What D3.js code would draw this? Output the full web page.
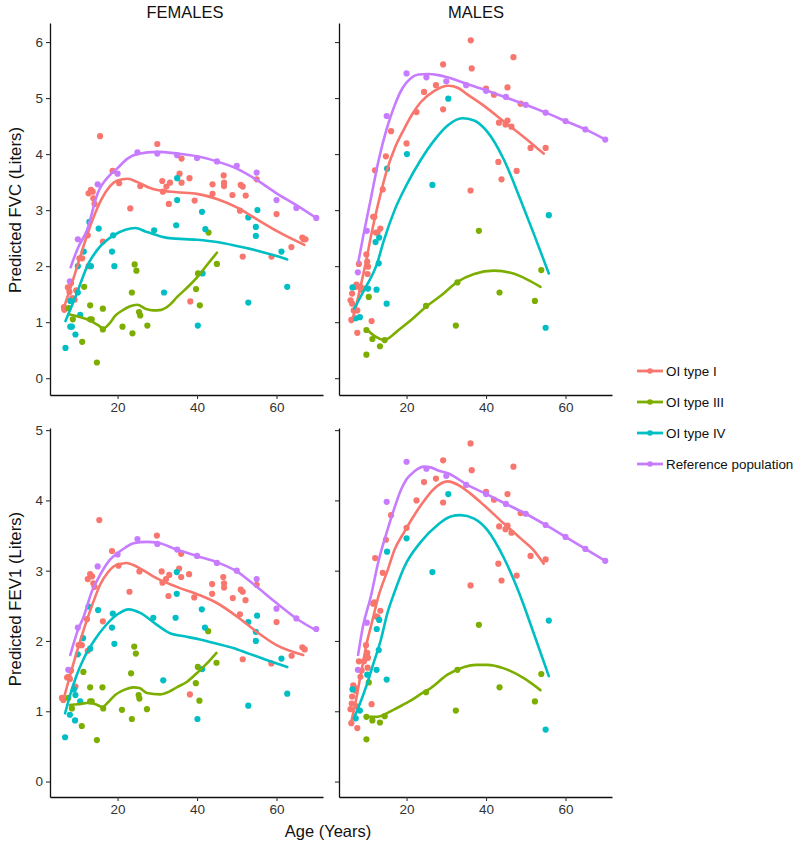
<!DOCTYPE html>
<html><head><meta charset="utf-8">
<script src="https://cdn.jsdelivr.net/npm/d3@7"></script>
<style>body{margin:0;background:#fff;} svg{display:block;} text{font-family:"Liberation Sans",Arial,sans-serif;}</style>
</head><body><svg id="c" width="800" height="846"></svg>
<script>
// ---------- categories / ticks ----------
const groups = ["OI type I", "OI type III", "OI type IV", "Reference population"];
const colors = ["#F8766D", "#7CAE00", "#00BFC4", "#C77CFF"];
const sexes = ["FEMALES", "MALES"];
const ageTicks = [20, 40, 60];
const fvcTicks = [0, 1, 2, 3, 4, 5, 6];
const fev1Ticks = [0, 1, 2, 3, 4, 5];

// ---------- FVC, females: points [age, liters] ----------
const fvcF_I = [[6.5,1.27],[6.6,1.22],[7.5,1.62],[7.9,1.54],[8.3,1.70],[8.6,1.43],[9.2,1.40],[9.6,1.57],[10.4,2.14],[11.1,2.14],[12.5,2.55],[12.7,3.30],[13.3,3.36],[13.75,3.33],[13.9,3.21],[14.2,3.11],[12.7,2.0],[15.6,4.32],[16.3,2.44],[18.75,3.70],[20.4,3.48],[23.2,3.03],[25.7,3.43],[30,4.18],[31.25,3.52],[31.4,3.33],[32.3,3.42],[32.9,3.11],[33.2,3.49],[35.6,3.65],[36.1,3.92],[36.1,3.49],[38.1,3.57],[39.4,3.17],[38.3,1.37],[43.9,3.46],[43.9,3.29],[46.7,3.62],[46.8,3.49],[46.8,3.43],[48.9,3.27],[50.8,2.99],[51,3.45],[51.5,3.42],[52.25,3.26],[51.5,2.17],[55,3.55],[58.75,2.17],[60,2.93],[63.75,2.34],[66.5,2.51],[66.8,2.48],[67.3,2.48]];
const fvcF_III = [[7.7,1.25],[8.75,1.05],[11.1,0.65],[11.6,1.63],[13.1,1.30],[13.1,1.05],[13.5,1.05],[14.8,0.28],[16.3,1.24],[16.3,0.87],[21.25,0.92],[23.6,1.53],[23.75,0.80],[24.3,2.03],[24.75,1.92],[25.4,1.18],[25.7,1.12],[27.5,0.94],[39.75,1.59],[40.25,1.87],[40.7,1.30],[42.9,2.60],[45,2.04]];
const fvcF_IV = [[6.9,0.54],[8.1,0.92],[8.5,0.92],[9.4,0.78],[8.1,1.38],[10,1.53],[10.6,1.13],[10,2.0],[11.5,2.26],[12.9,2.79],[13.3,2.0],[15.25,2.67],[18.6,2.26],[18.9,2.55],[19.2,2.0],[29.2,2.64],[31.7,1.53],[34.75,2.73],[35,3.18],[35,3.57],[40.2,0.94],[41.25,2.97],[41.4,1.87],[42.1,2.66],[52.9,1.35],[52.9,2.87],[54.8,2.70],[54.8,2.54],[55.2,3.0],[61.25,2.26],[62.7,1.63]];
const fvcF_Ref = [[8,1.73],[10,2.48],[15,3.46],[20,3.65],[25,4.03],[30,4.01],[35,3.98],[40,3.93],[45,3.87],[50,3.79],[55,3.67],[60,3.18],[65,3.04],[70,2.86]];
// smoothed curves
const fvcF_I_fit = [[6.3,1.22],[8,1.58],[10,2.03],[12,2.48],[14,2.88],[16,3.2],[18,3.42],[20,3.53],[22.5,3.56],[25,3.5],[28,3.4],[30,3.36],[35,3.32],[40,3.29],[45,3.2],[50,3.05],[55,2.84],[60,2.63],[67,2.38]];
const fvcF_III_fit = [[7.7,1.14],[10,1.1],[13,1.03],[15,0.95],[16.5,0.89],[18,0.98],[19.5,1.12],[21,1.2],[23,1.28],[25,1.31],[27,1.24],[29,1.21],[31,1.22],[33,1.3],[35,1.45],[38,1.65],[40,1.8],[42.5,2.02],[45,2.24]];
const fvcF_IV_fit = [[6.9,1.02],[9.4,1.45],[12.7,2.05],[15,2.3],[19,2.55],[22,2.65],[24.5,2.68],[27,2.62],[30,2.55],[33,2.5],[40,2.47],[45,2.43],[50,2.36],[55,2.28],[60,2.18],[62.7,2.12]];
const fvcF_Ref_fit = [[8.2,1.98],[10,2.32],[12.3,2.64],[15,3.3],[18,3.62],[20,3.75],[22.5,3.92],[25,4.0],[30,4.04],[35,4.01],[40,3.96],[45,3.87],[50,3.74],[55,3.54],[60,3.3],[65,3.09],[70,2.86]];

// ---------- FVC, males ----------
const fvcM_I = [[5.9,1.39],[6.1,1.04],[6.3,1.33],[6.3,1.51],[6.7,1.21],[7.2,1.63],[7.4,1.67],[7.6,1.21],[7.6,0.81],[8.0,2.04],[8.4,1.63],[8.6,1.58],[9.3,1.60],[9.9,2.21],[10.1,2.08],[10.3,1.99],[10.2,1.86],[11.2,1.02],[11.6,2.88],[11.9,2.88],[12.3,2.60],[12.7,2.60],[13.4,2.67],[14,3.37],[12.05,3.71],[14.8,3.96],[16.1,4.41],[20,4.19],[22.5,4.75],[24.4,5.11],[27.4,5.23],[29.2,5.60],[29.2,4.80],[36.15,6.03],[36.4,5.53],[36.1,3.35],[40,5.17],[42,5.06],[43.1,3.86],[43.25,4.56],[43.9,3.55],[44.9,4.53],[45.4,5.19],[45.4,4.60],[46.4,4.49],[46.9,5.73],[47.7,3.70],[48.7,4.90],[51.2,4.11],[55,4.11]];
const fvcM_III = [[9.9,0.86],[9.9,0.42],[10.5,1.45],[11.4,0.70],[13.3,0.57],[14.5,0.68],[24.9,1.29],[32.4,0.94],[32.8,1.71],[38.2,2.63],[43.4,1.53],[52.3,1.38],[53.9,1.93]];
const fvcM_IV = [[6.4,1.62],[7.2,1.07],[8.25,1.09],[10.3,1.60],[12.2,2.43],[13.1,2.51],[13.0,2.05],[12.45,1.58],[15,1.33],[15.1,3.74],[20.1,4.0],[26.5,3.45],[30.5,4.99],[55,0.90],[55.8,2.91]];
const fvcM_Ref = [[7.75,1.89],[10,2.63],[15,4.68],[20,5.44],[25,5.37],[30,5.30],[35,5.23],[40,5.13],[45,5.02],[50,4.88],[55,4.74],[60,4.59],[65,4.44],[70,4.26]];
const fvcM_I_fit = [[6.1,1.0],[7,1.2],[8,1.5],[9,1.82],[10,2.15],[11,2.52],[12,2.85],[13.5,3.3],[15,3.7],[17,4.1],[19.4,4.45],[21.5,4.72],[23.6,4.93],[27,5.13],[30.5,5.22],[33,5.18],[35,5.08],[39.5,4.86],[44.5,4.58],[48.7,4.35],[52,4.16],[54.5,4.01]];
const fvcM_III_fit = [[10,0.87],[12,0.75],[14.4,0.68],[16,0.74],[18,0.86],[21,1.03],[25,1.28],[28.6,1.47],[32.8,1.72],[37,1.86],[42,1.92],[46.2,1.88],[50.4,1.76],[53.7,1.63]];
const fvcM_IV_fit = [[6.8,1.24],[9.3,1.57],[12.6,2.05],[14.3,2.46],[17,3.0],[20,3.45],[23.6,3.9],[27,4.25],[30.5,4.52],[34,4.64],[37,4.6],[40.3,4.4],[44.5,3.9],[48.7,3.18],[52,2.58],[55.8,1.87]];
const fvcM_Ref_fit = [[7.8,2.05],[9,2.5],[11,3.2],[13,3.9],[15,4.45],[17,4.87],[19,5.18],[21,5.35],[23,5.42],[25.3,5.43],[28,5.41],[30.3,5.37],[35.3,5.25],[40.3,5.13],[45.4,5.0],[50,4.88],[55,4.74],[60,4.59],[65,4.44],[70,4.26]];

// ---------- FEV1, females ----------
const fev1F_I = [[6.0,1.19],[6.35,1.16],[7.3,1.48],[7.6,1.49],[8.0,1.46],[8.3,1.58],[9.4,1.35],[10.2,1.94],[11,1.94],[12.3,2.31],[12.5,2.88],[13.1,2.95],[13.6,2.92],[13.9,2.82],[14.2,2.77],[12.5,1.86],[15.4,3.72],[16.3,2.28],[18.6,3.28],[20.25,3.07],[23,2.70],[25.5,2.99],[29.9,3.50],[31.1,2.99],[31.3,2.83],[32.2,2.88],[32.8,2.64],[33,2.94],[35.5,3.03],[36,3.24],[36,2.91],[38,2.95],[39.3,2.62],[38.2,1.24],[43.8,2.81],[43.8,2.67],[46.6,2.91],[46.8,2.82],[46.8,2.76],[49,2.61],[50.8,2.38],[51,2.73],[51.5,2.70],[52.2,2.58],[51.5,1.74],[55,2.80],[58.7,1.68],[60,2.27],[63.8,1.79],[66.5,1.91],[67.1,1.88]];
const fev1F_III = [[7.6,1.19],[8.5,1.04],[11,0.79],[11.4,1.56],[13.1,1.34],[13.1,1.14],[13.5,1.14],[14.8,0.59],[16.2,1.34],[16.4,1.04],[21.1,1.02],[23.4,1.54],[23.6,0.89],[24.2,1.92],[24.6,1.82],[25.3,1.23],[25.5,1.18],[27.4,1.03],[39.7,1.40],[40.2,1.63],[40.6,1.15],[42.8,2.14],[44.9,1.69]];
const fev1F_IV = [[6.8,0.63],[8.0,0.95],[9.3,0.87],[9,1.31],[10,1.81],[9.4,1.23],[10.6,1.14],[11.3,2.04],[12.7,2.49],[13.1,1.89],[15.1,2.44],[18.6,2.19],[18.8,2.39],[19.2,1.96],[29,2.33],[31.5,1.44],[34.6,2.33],[34.9,2.67],[34.9,2.98],[40.1,0.89],[41.2,2.45],[41.3,1.60],[42,2.19],[52.9,1.08],[52.9,2.27],[54.8,2.13],[54.8,2.0],[55.1,2.36],[61.25,1.75],[62.7,1.25]];
const fev1F_Ref = [[7.6,1.59],[10,2.19],[15,3.06],[20,3.23],[25,3.45],[30,3.38],[35,3.30],[40,3.21],[45,3.11],[50,3.0],[55,2.88],[60,2.46],[65,2.32],[70,2.17]];
const fev1F_I_fit = [[6.35,1.16],[8,1.5],[10.6,2.0],[12.3,2.3],[14,2.57],[15.6,2.8],[17.5,2.97],[19,3.06],[21,3.1],[22.3,3.11],[24,3.08],[25.7,3.03],[29.9,2.89],[34.9,2.77],[40.75,2.65],[45,2.54],[50,2.35],[55,2.13],[60,1.94],[66.7,1.80]];
const fev1F_III_fit = [[8,1.09],[10,1.1],[13,1.12],[14.5,1.1],[16.2,1.06],[17.5,1.12],[19.4,1.23],[21.5,1.3],[24,1.34],[25.5,1.33],[27.4,1.26],[30.7,1.24],[33,1.28],[34.9,1.34],[37.5,1.42],[39.9,1.54],[42.5,1.68],[44.9,1.83]];
const fev1F_IV_fit = [[6.8,0.97],[8,1.22],[9.5,1.48],[11.5,1.75],[14.3,2.02],[17,2.22],[20,2.38],[22.8,2.45],[25.7,2.4],[29.9,2.23],[33.2,2.11],[37.4,2.06],[40.75,2.02],[45,1.96],[49.1,1.90],[53,1.82],[57.5,1.73],[62.7,1.63]];
const fev1F_Ref_fit = [[8.1,1.8],[10,2.15],[11.5,2.35],[13.5,2.7],[15.6,2.94],[18,3.15],[20,3.25],[22,3.33],[24,3.39],[27.4,3.41],[29.9,3.40],[34.9,3.30],[39.9,3.21],[45,3.12],[50,2.99],[55,2.77],[60,2.54],[65,2.32],[70,2.15]];

// ---------- FEV1, males ----------
const fev1M_I = [[5.9,1.03],[6.1,0.83],[6.2,1.11],[6.3,1.21],[6.6,1.37],[7.0,1.33],[7.2,1.29],[7.5,1.07],[7.6,0.76],[8.0,1.71],[8.4,1.49],[8.7,1.58],[9.3,1.71],[9.8,1.94],[10.1,1.83],[10.3,1.76],[10.2,1.62],[11.2,1.10],[11.6,2.53],[11.9,2.55],[12.3,2.35],[12.7,2.34],[13.4,2.43],[14,2.97],[12.1,3.18],[14.8,3.44],[16.1,3.79],[20,3.61],[22.5,4.0],[24.4,4.26],[27.4,4.31],[29.2,4.57],[29.2,3.97],[36.1,4.81],[36.4,4.43],[36.1,2.79],[40,4.12],[42,4.01],[43.1,3.10],[43.3,3.63],[43.9,2.86],[44.9,3.59],[45.4,4.09],[45.4,3.64],[46.4,3.54],[46.9,4.48],[47.7,2.93],[48.7,3.82],[51.2,3.21],[55,3.16]];
const fev1M_III = [[9.9,0.92],[9.9,0.60],[10.5,1.41],[11.4,0.87],[13.3,0.84],[14.5,0.93],[24.9,1.27],[32.4,1.01],[32.8,1.59],[38.2,2.23],[43.4,1.34],[52.3,1.14],[53.9,1.53]];
const fev1M_IV = [[6.4,1.31],[7.2,0.90],[8.25,1.01],[10.1,1.52],[12.5,2.17],[13.1,2.30],[13.0,1.87],[12.45,1.59],[15,1.45],[15.1,3.27],[20,3.46],[26.5,2.98],[30.5,4.09],[55,0.74],[55.8,2.29]];
const fev1M_Ref = [[7.75,1.59],[10,2.26],[15,3.98],[20,4.55],[25,4.45],[30,4.35],[35,4.22],[40,4.09],[45,3.95],[50,3.81],[55,3.65],[60,3.48],[65,3.31],[70,3.14]];
const fev1M_I_fit = [[6,0.83],[7,1.08],[8,1.38],[9,1.68],[10.1,2.0],[11,2.2],[13,2.65],[15.2,3.0],[17,3.3],[19.4,3.55],[21.5,3.75],[23.6,3.93],[27,4.17],[30.3,4.27],[33.6,4.2],[36,4.1],[39.5,3.93],[44.5,3.67],[48.7,3.46],[52,3.29],[54.5,3.10]];
const fev1M_III_fit = [[9.9,0.92],[12,0.92],[13.4,0.93],[15,0.97],[17.7,1.05],[21,1.15],[24,1.26],[26.1,1.33],[30.3,1.52],[34.5,1.63],[37.5,1.66],[40.3,1.66],[44.5,1.61],[49.5,1.47],[53.7,1.30]];
const fev1M_IV_fit = [[6.75,0.9],[8,1.07],[10,1.38],[11.5,1.65],[13.5,2.01],[15.2,2.4],[17,2.7],[19.4,3.05],[23.6,3.41],[27.8,3.65],[31.1,3.77],[33.6,3.79],[37,3.74],[40.3,3.58],[44.5,3.18],[48.7,2.63],[52,2.11],[55.8,1.50]];
const fev1M_Ref_fit = [[7.8,1.8],[9,2.2],[11,2.63],[13,3.15],[15.2,3.58],[17,3.9],[18.6,4.15],[20,4.3],[21.9,4.41],[24.4,4.48],[26,4.47],[27.8,4.43],[30.7,4.38],[35.3,4.22],[40.1,4.09],[45,3.95],[50,3.81],[55,3.65],[60,3.48],[65,3.31],[70,3.14]];

// ---------- layout ----------
const svg = d3.select("#c");
const ageDomain = [3.0, 71.7];
const xFem = d3.scaleLinear().domain(ageDomain).range([50, 323]);
const xMal = d3.scaleLinear().domain(ageDomain).range([339, 612]);
const yFvc = d3.scaleLinear().domain([-0.3, 6.34]).range([395, 23]);
const yFev = d3.scaleLinear().domain([-0.22, 5.03]).range([797, 428]);
const fmt = d3.format("d");

const panels = [
  {x: xFem, y: yFvc, ticks: fvcTicks, labels: true, pts: [fvcF_I, fvcF_III, fvcF_IV, fvcF_Ref], fits: [fvcF_I_fit, fvcF_III_fit, fvcF_IV_fit, fvcF_Ref_fit]},
  {x: xMal, y: yFvc, ticks: fvcTicks, labels: false, pts: [fvcM_I, fvcM_III, fvcM_IV, fvcM_Ref], fits: [fvcM_I_fit, fvcM_III_fit, fvcM_IV_fit, fvcM_Ref_fit]},
  {x: xFem, y: yFev, ticks: fev1Ticks, labels: true, pts: [fev1F_I, fev1F_III, fev1F_IV, fev1F_Ref], fits: [fev1F_I_fit, fev1F_III_fit, fev1F_IV_fit, fev1F_Ref_fit]},
  {x: xMal, y: yFev, ticks: fev1Ticks, labels: false, pts: [fev1M_I, fev1M_III, fev1M_IV, fev1M_Ref], fits: [fev1M_I_fit, fev1M_III_fit, fev1M_IV_fit, fev1M_Ref_fit]}
];

panels.forEach(p => {
  const g = svg.append("g");
  const [y0] = p.y.range();
  const [x0] = p.x.range();
  const ax = g.append("g").attr("transform", `translate(0,${y0})`)
    .call(d3.axisBottom(p.x).tickValues(ageTicks).tickFormat(fmt).tickSize(4).tickSizeOuter(0).tickPadding(3));
  const ay = g.append("g").attr("transform", `translate(${x0},0)`)
    .call(d3.axisLeft(p.y).tickValues(p.ticks).tickFormat(fmt).tickSize(4).tickSizeOuter(0).tickPadding(3));
  if (!p.labels) ay.selectAll(".tick text").remove();
  [ax, ay].forEach(a => {
    a.select(".domain").attr("stroke", "#111").attr("stroke-width", 1.3);
    a.selectAll(".tick line").attr("stroke", "#333").attr("stroke-width", 1.1);
    a.selectAll(".tick text").attr("fill", "#333").style("font-size", "13.5px").style("font-family", "'Liberation Sans',Arial,sans-serif");
  });
  const line = d3.line().x(d => p.x(d[0])).y(d => p.y(d[1])).curve(d3.curveMonotoneX);
  p.pts.forEach((arr, i) => {
    g.append("g").selectAll("circle").data(arr).join("circle")
      .attr("cx", d => p.x(d[0])).attr("cy", d => p.y(d[1])).attr("r", 3.1)
      .attr("fill", colors[i]);
  });
  p.fits.forEach((arr, i) => {
    g.append("path").datum(arr).attr("d", line).attr("fill", "none")
      .attr("stroke", colors[i]).attr("stroke-width", 2.6).attr("stroke-linecap", "round");
  });
});

// facet titles
svg.append("text").attr("x", 185).attr("y", 18).attr("text-anchor", "middle").style("font-size", "16.5px").attr("fill", "#111").text(sexes[0]);
svg.append("text").attr("x", 476).attr("y", 18).attr("text-anchor", "middle").style("font-size", "16.5px").attr("fill", "#111").text(sexes[1]);

// axis titles
svg.append("text").attr("transform", "translate(21,210) rotate(-90)").attr("text-anchor", "middle").style("font-size", "16.8px").attr("fill", "#111").text("Predicted FVC (Liters)");
svg.append("text").attr("transform", "translate(21,599) rotate(-90)").attr("text-anchor", "middle").style("font-size", "16.8px").attr("fill", "#111").text("Predicted FEV1 (Liters)");
svg.append("text").attr("x", 328).attr("y", 837).attr("text-anchor", "middle").style("font-size", "16.5px").attr("fill", "#111").text("Age (Years)");

// legend
const leg = svg.append("g");
groups.forEach((gname, i) => {
  const yy = 371 + i * 31;
  leg.append("line").attr("x1", 637).attr("x2", 663).attr("y1", yy).attr("y2", yy).attr("stroke", colors[i]).attr("stroke-width", 2.8);
  leg.append("circle").attr("cx", 650).attr("cy", yy).attr("r", 2.8).attr("fill", colors[i]);
  leg.append("text").attr("x", 666).attr("y", yy + 4.8).style("font-size", "13.4px").attr("fill", "#111").text(gname);
});
</script></body></html>
